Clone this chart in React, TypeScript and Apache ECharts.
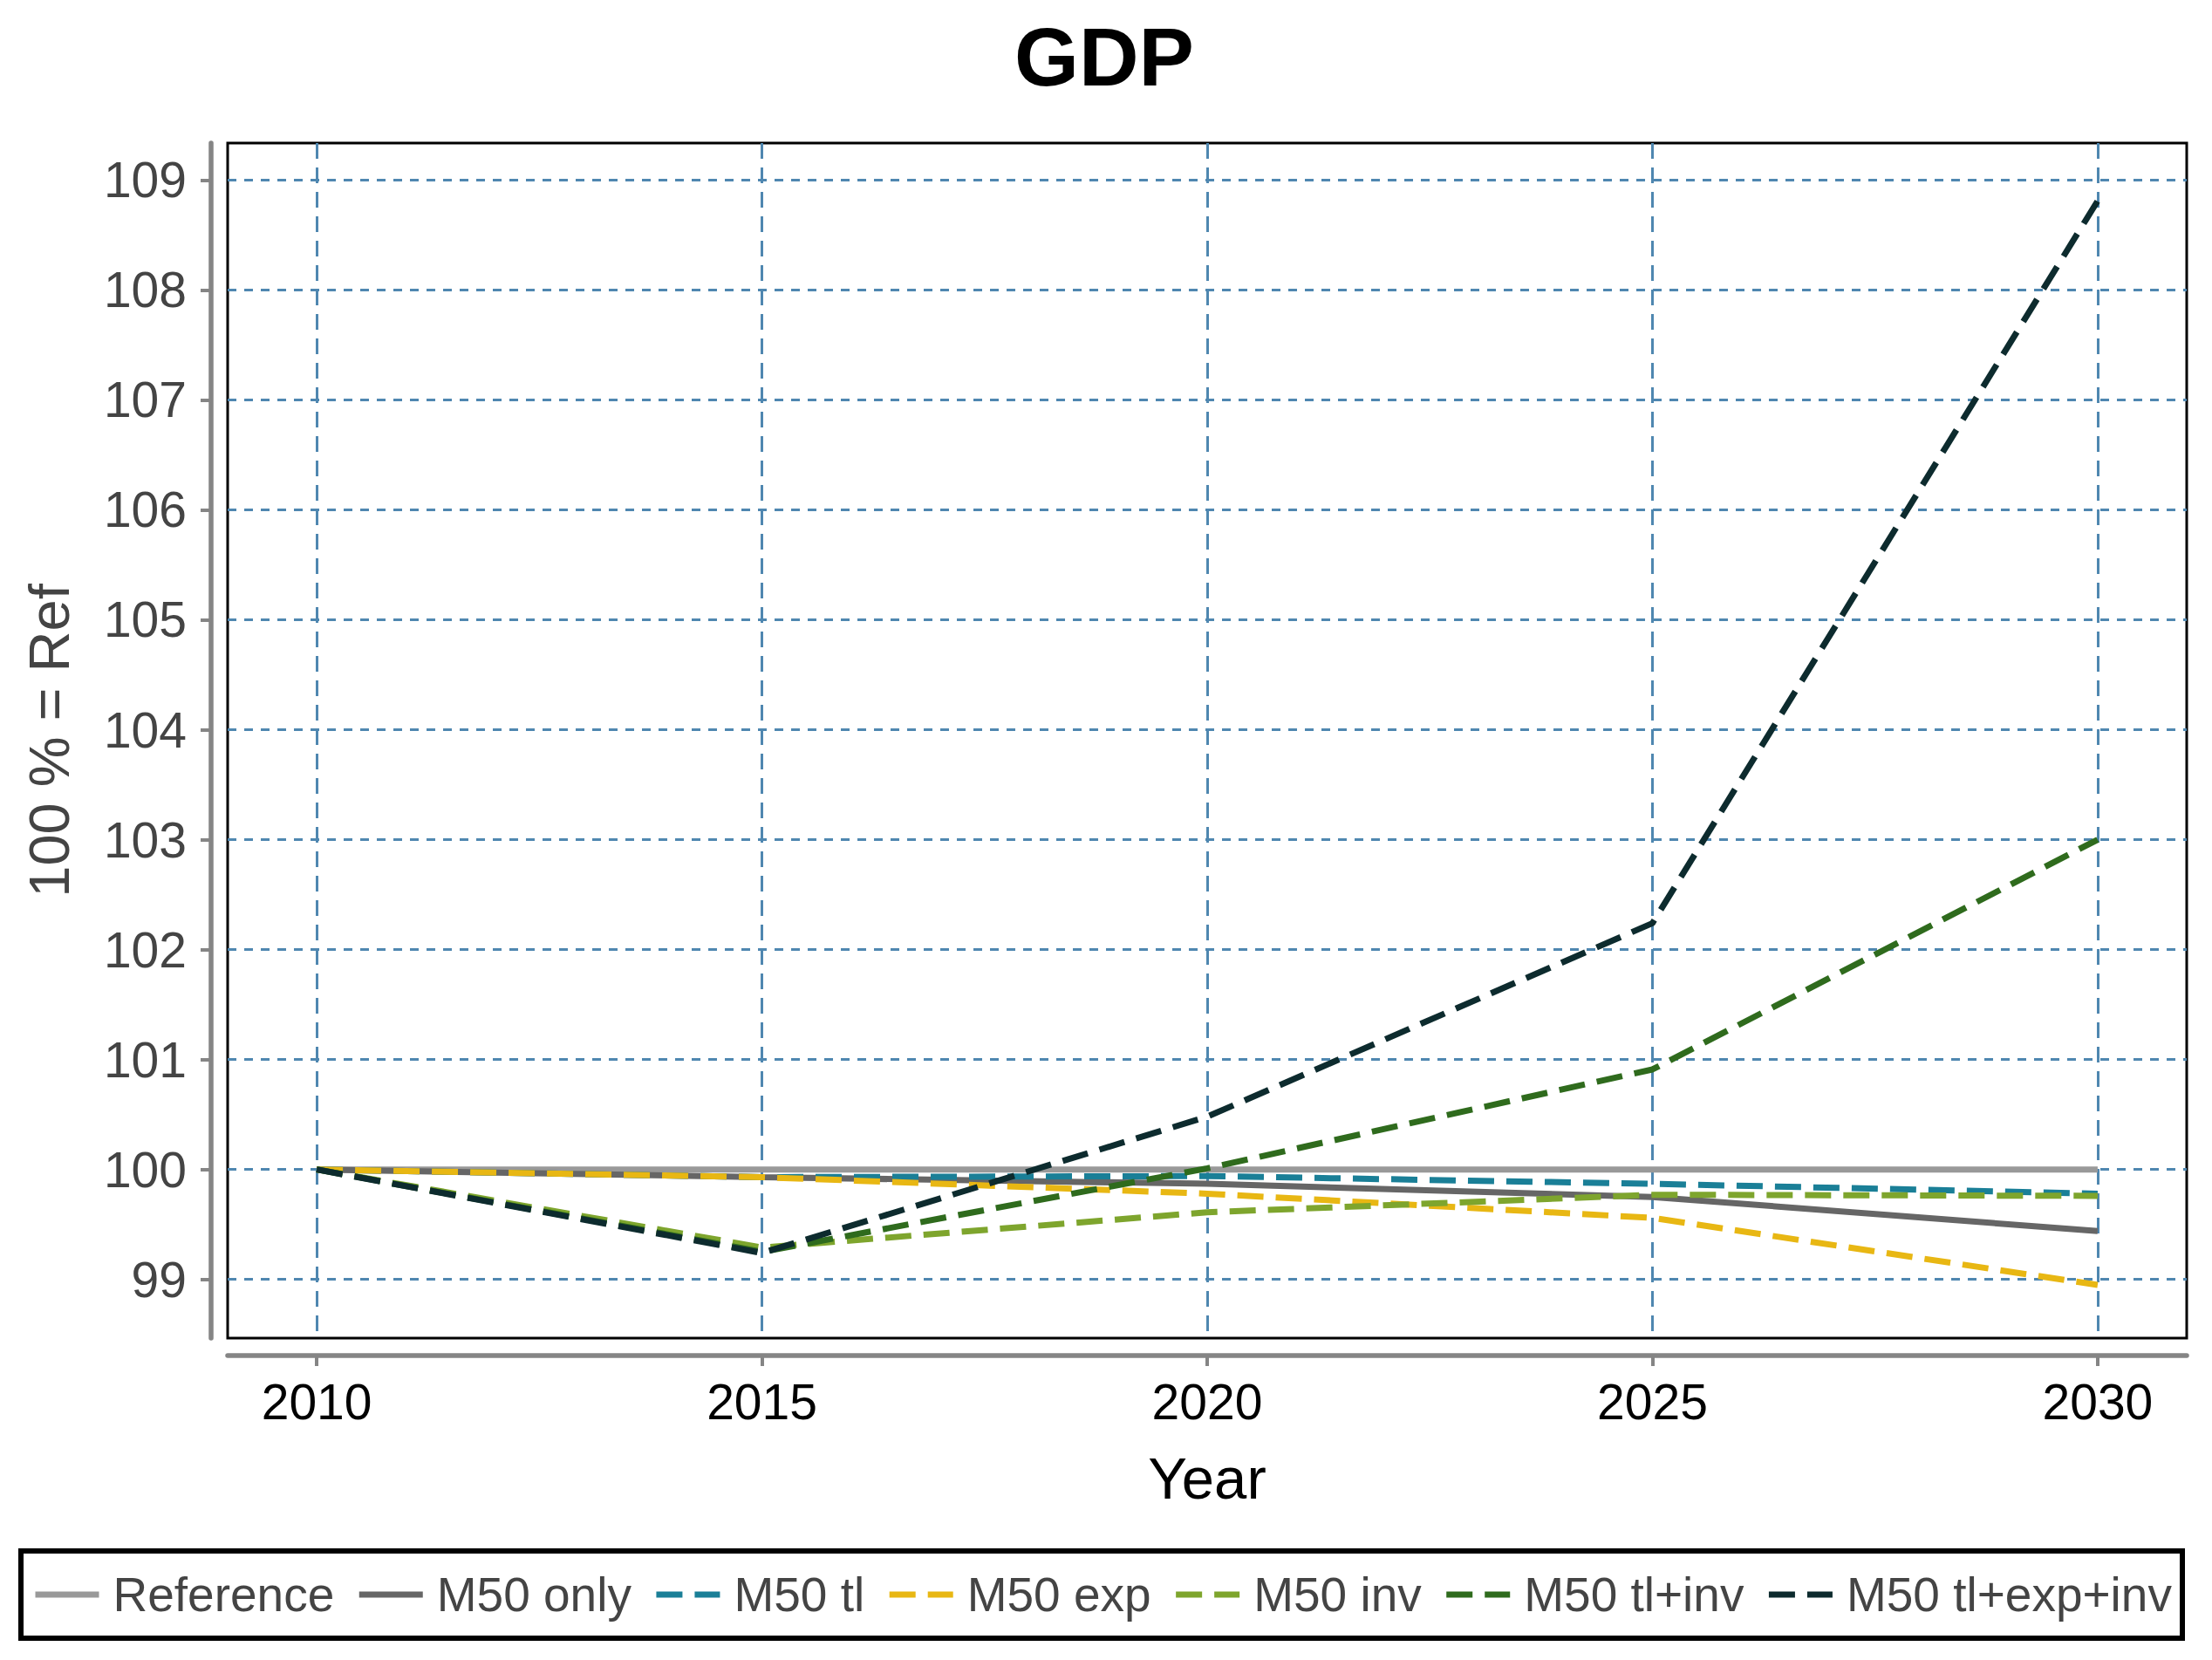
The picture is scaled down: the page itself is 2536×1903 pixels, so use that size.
import React, { useEffect, useRef } from "react";
import * as echarts from "echarts";

const years = [2010, 2015, 2020, 2025, 2030];
const yTicks = [99, 100, 101, 102, 103, 104, 105, 106, 107, 108, 109];
const seriesNames = [
  "Reference",
  "M50 only",
  "M50 tl",
  "M50 exp",
  "M50 inv",
  "M50 tl+inv",
  "M50 tl+exp+inv",
];
const reference = [100, 100, 100, 100, 100];
const m50Only = [100, 99.93, 99.87, 99.75, 99.44];
const m50Tl = [100, 99.93, 99.94, 99.87, 99.78];
const m50Exp = [100, 99.93, 99.78, 99.56, 98.95];
const m50Inv = [100, 99.29, 99.61, 99.77, 99.76];
const m50TlInv = [100, 99.25, 100.01, 100.91, 103.0];
const m50TlExpInv = [100, 99.24, 100.48, 102.24, 108.81];

const seriesValues = [reference, m50Only, m50Tl, m50Exp, m50Inv, m50TlInv, m50TlExpInv];
const seriesColors = ["#999999", "#666666", "#1a7f97", "#e8b713", "#7ea52d", "#2f6b1d", "#0d2b2e"];
const seriesDashed = [false, false, true, true, true, true, true];

const FONT = "'Liberation Sans', Arial, Helvetica, sans-serif";
const AXIS_GREY = "#858585";
const GRID_BLUE = "#4f87b0";
const LINE_W = 7;

export default function App() {
  const ref = useRef<HTMLDivElement>(null);

  useEffect(() => {
    document.body.style.margin = "0";
    if (!ref.current) return;
    const chart = echarts.init(ref.current, undefined, { renderer: "svg" });

    const series = seriesNames.map((name, i) => ({
      name,
      type: "line",
      data: years.map((y, j) => [y, seriesValues[i][j]]),
      symbol: "none",
      showSymbol: false,
      z: 3 + i,
      lineStyle: {
        color: seriesColors[i],
        width: LINE_W,
        type: seriesDashed[i] ? [30, 14] : "solid",
        cap: "butt",
      },
      itemStyle: { color: seriesColors[i] },
      emphasis: { disabled: true },
    }));

    const option = {
      animation: false,
      backgroundColor: "#ffffff",
      title: {
        text: "GDP",
        left: 1163,
        top: 17,
        padding: 0,
        textStyle: { fontSize: 95, fontWeight: "bold", color: "#000", fontFamily: FONT },
      },
      grid: {
        left: 261,
        right: 29,
        top: 164,
        bottom: 369,
        show: true,
        borderColor: "#000",
        borderWidth: 3,
        backgroundColor: "transparent",
        containLabel: false,
        outerBoundsMode: "none",
      },
      xAxis: {
        type: "value",
        min: 2009,
        max: 2031,
        offset: 20,
        name: "Year",
        nameLocation: "middle",
        nameGap: 107,
        nameMoveOverlap: false,
        nameTextStyle: { fontSize: 67, color: "#000", fontFamily: FONT },
        axisLine: { show: true, onZero: false, lineStyle: { color: AXIS_GREY, width: 5.5 } },
        axisTick: {
          show: true,
          inside: false,
          length: 12,
          customValues: years,
          lineStyle: { color: AXIS_GREY, width: 4 },
        },
        axisLabel: {
          show: true,
          customValues: years,
          margin: 24,
          fontSize: 57,
          color: "#000",
          fontFamily: FONT,
          formatter: (v: number) => String(v),
        },
        splitLine: {
          show: true,
          lineStyle: { color: GRID_BLUE, width: 3, type: [18, 10] },
        },
      },
      yAxis: {
        type: "value",
        min: 98.466,
        max: 109.336,
        offset: 19,
        name: "100 % = Ref",
        nameLocation: "middle",
        nameGap: 153,
        nameMoveOverlap: false,
        nameTextStyle: { fontSize: 65, color: "#444444", fontFamily: FONT },
        axisLine: { show: true, lineStyle: { color: AXIS_GREY, width: 5.5 } },
        axisTick: {
          show: true,
          inside: false,
          length: 12,
          customValues: yTicks,
          lineStyle: { color: AXIS_GREY, width: 4 },
        },
        axisLabel: {
          show: true,
          customValues: yTicks,
          margin: 28,
          fontSize: 57,
          color: "#444444",
          fontFamily: FONT,
          formatter: (v: number) => String(v),
        },
        splitLine: {
          show: true,
          lineStyle: { color: GRID_BLUE, width: 3, type: [10, 9] },
        },
      },
      legend: {
        show: true,
        data: seriesNames,
        orient: "horizontal",
        left: 37,
        top: 1796,
        padding: 0,
        itemWidth: 73,
        itemHeight: 14,
        itemGap: 25,
        selectedMode: false,
        itemStyle: { opacity: 0, borderWidth: 0 },
        lineStyle: { width: LINE_W },
        textStyle: {
          fontSize: 55,
          color: "#444444",
          fontFamily: FONT,
          lineHeight: 64,
          padding: [0, 0, 0, 11],
        },
      },
      graphic: [
        {
          type: "rect",
          silent: true,
          shape: { x: 24, y: 1778, width: 2478, height: 100 },
          style: { fill: "none", stroke: "#000", lineWidth: 6 },
        },
      ],
      series,
    };

    chart.setOption(option as any);
    return () => chart.dispose();
  }, []);

  return <div ref={ref} style={{ width: 2536, height: 1903 }} />;
}
